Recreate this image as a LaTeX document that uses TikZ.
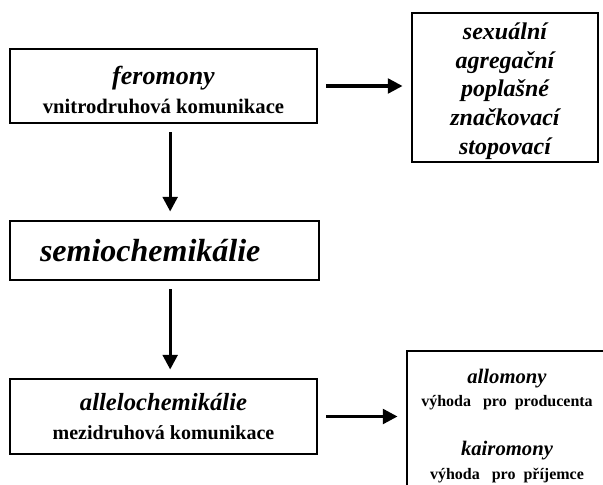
\documentclass[tikz,border=0pt]{standalone}
\usepackage{fontspec}
\setmainfont{Liberation Serif}
\usetikzlibrary{arrows.meta}
\tikzset{
  box/.style={draw, line width=2.2pt, inner sep=0pt, align=center},
  arr/.style={line width=2.4pt, -{Triangle[length=11pt,width=11pt]}, shorten <=6pt, shorten >=6pt},
}
\begin{document}
\begin{tikzpicture}[x=0.75pt,y=0.75pt,yscale=-1,xscale=1]
\useasboundingbox (0,0) rectangle (603,485);
\clip (0,0) rectangle (603,485);

% Text Node
\node [box, minimum width=230.25pt, minimum height=55.5pt, font=\fontsize{15.5}{22}\selectfont\bfseries] (fer) at (163.5,86)
  {\rule{0pt}{20pt}{\fontsize{19.5}{22}\selectfont\itshape feromony}\\ vnitrodruhová komunikace};
% Text Node
\node [box, minimum width=139.5pt, minimum height=111.75pt, font=\fontsize{18}{21.5}\selectfont\bfseries\itshape] (kinds) at (505,87.5)
  {\rule{0pt}{18pt}sexuální\\ agregační\\ poplašné\\ značkovací\\ stopovací};
% Text Node
\node [box, inner xsep=22.5pt, text width=186.75pt, align=left, minimum height=44.25pt, font=\fontsize{24}{28}\selectfont\bfseries\itshape] (semio) at (164.5,250.5)
  {semiochemikálie};
% Text Node
\node [box, minimum width=230.25pt, minimum height=56.25pt, font=\fontsize{15}{22}\selectfont\bfseries] (allelo) at (163.5,416.5)
  {{\fontsize{18.5}{22}\selectfont\itshape allelochemikálie}\\ mezidruhová komunikace};
% Text Node
\node [box, minimum width=150pt, minimum height=112.5pt, font=\fontsize{12}{17}\selectfont\bfseries] (types) at (507,426)
  {{\fontsize{15.5}{19}\selectfont\itshape allomony}\\ výhoda~~~pro~~producenta\\[20pt]
   {\fontsize{15.5}{19}\selectfont\itshape kairomony}\\[1pt] výhoda~~~pro~~příjemce};

% Connection
\draw [arr] (fer.east) -- (fer.east -| kinds.west);
% Connection
\draw [arr] ([xshift=5pt]fer.south) -- ([xshift=5pt]fer.south |- semio.north);
% Connection
\draw [arr] ([xshift=5pt]fer.south |- semio.south) -- ([xshift=5pt]fer.south |- allelo.north);
% Connection
\draw [arr] (allelo.east) -- (allelo.east -| types.west);

\end{tikzpicture}
\end{document}
